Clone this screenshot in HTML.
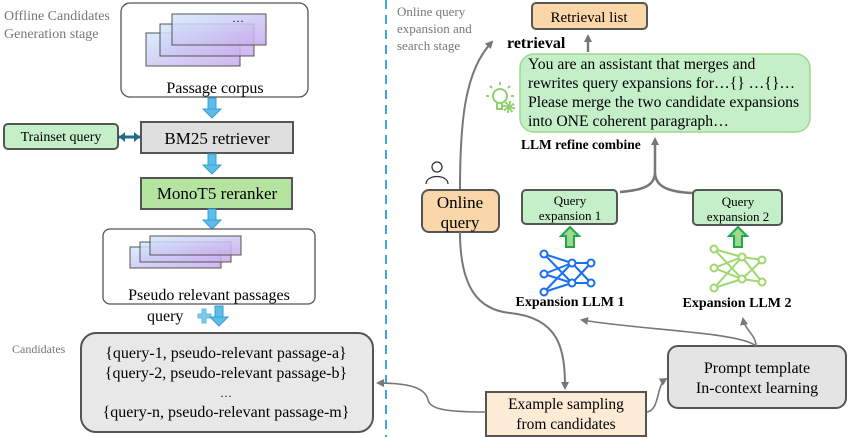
<!DOCTYPE html>
<html><head><meta charset="utf-8"><style>
html,body{margin:0;padding:0;background:#fff;}
svg{display:block;font-family:"Liberation Serif",serif;}
</style></head><body>
<svg width="848" height="437" viewBox="0 0 848 437" xmlns="http://www.w3.org/2000/svg">
<defs>
<linearGradient id="pg" x1="0" y1="0" x2="1" y2="1"><stop offset="0" stop-color="#d2eafb"/><stop offset="1" stop-color="#c9a8ec"/></linearGradient>
<marker id="ah" markerWidth="8" markerHeight="8" refX="6" refY="4" orient="auto" markerUnits="userSpaceOnUse"><path d="M0,0 L8,4 L0,8 z" fill="#777"/></marker>
<g id="barrow"><rect x="-4" y="0" width="8" height="12" fill="#5bbde8" stroke="#3a9fd0" stroke-width="1"/><path d="M-9,11 L9,11 L0,20 z" fill="#5bbde8" stroke="#3a9fd0" stroke-width="1"/></g>
<g id="garrow"><path d="M-4,20 L-4,9 L-9,9 L0,0 L9,9 L4,9 L4,20 z" fill="#9ed88e" stroke="#1fa84a" stroke-width="2"/></g>
</defs>

<text x="4" y="20" font-size="14" fill="#777">Offline Candidates</text>
<text x="4" y="38" font-size="14" fill="#777">Generation stage</text>

<rect x="121" y="3" width="187" height="94" rx="9" fill="#fff" stroke="#555" stroke-width="1.3"/>
<rect x="146" y="33" width="94" height="33" fill="url(#pg)" fill-opacity="0.85" stroke="#555"/>
<rect x="160" y="24" width="94" height="32" fill="url(#pg)" fill-opacity="0.85" stroke="#555"/>
<rect x="172" y="14" width="94" height="31" fill="url(#pg)" fill-opacity="0.85" stroke="#555"/>
<text x="238" y="22" font-size="12" text-anchor="middle">…</text>
<text x="215" y="93" font-size="16" text-anchor="middle">Passage corpus</text>
<use href="#barrow" x="212" y="98"/>

<rect x="141" y="122" width="152" height="31" fill="#dedede" stroke="#555" stroke-width="2"/>
<text x="217" y="144" font-size="17" text-anchor="middle">BM25 retriever</text>
<rect x="4" y="124" width="114" height="25" rx="4" fill="#c5efc9" stroke="#555" stroke-width="2"/>
<text x="61" y="141" font-size="14" text-anchor="middle">Trainset query</text>
<path d="M119,137 L140,137" stroke="#1f6b8a" stroke-width="3"/>
<path d="M119,137 L125,132 L125,142 z M140,137 L134,132 L134,142 z" fill="#1f6b8a"/>
<use href="#barrow" x="212" y="154"/>

<rect x="141" y="178" width="151" height="31" fill="#b5e3a0" stroke="#555" stroke-width="2"/>
<text x="217" y="199" font-size="17" text-anchor="middle">MonoT5 reranker</text>
<use href="#barrow" x="212" y="209"/>

<rect x="103" y="229" width="212" height="75" rx="7" fill="#fff" stroke="#555" stroke-width="1.3"/>
<rect x="130" y="247" width="91" height="21" fill="url(#pg)" fill-opacity="0.85" stroke="#555"/>
<rect x="140" y="242" width="91" height="20" fill="url(#pg)" fill-opacity="0.85" stroke="#555"/>
<rect x="150" y="236" width="91" height="19" fill="url(#pg)" fill-opacity="0.85" stroke="#555"/>
<text x="209" y="300" font-size="16" text-anchor="middle">Pseudo relevant passages</text>
<text x="147" y="321" font-size="16">query</text>
<path d="M198,314 h4 v-5 h4 v5 h5 v4 h-5 v5 h-4 v-5 h-4 z" fill="#7fc8ea" stroke="#5bbde8"/>
<use href="#barrow" x="219" y="306"/>

<text x="12" y="353" font-size="12" fill="#777">Candidates</text>
<rect x="81" y="333" width="292" height="99" rx="15" fill="#e8e8e8" stroke="#555" stroke-width="2"/>
<text x="226" y="358" font-size="16" text-anchor="middle">{query-1, pseudo-relevant passage-a}</text>
<text x="226" y="378" font-size="16" text-anchor="middle">{query-2, pseudo-relevant passage-b}</text>
<text x="226" y="397" font-size="12" text-anchor="middle">…</text>
<text x="226" y="417" font-size="16" text-anchor="middle">{query-n, pseudo-relevant passage-m}</text>

<line x1="386" y1="0" x2="386" y2="437" stroke="#3aa8dc" stroke-width="2" stroke-dasharray="9,6"/>

<text x="397" y="16" font-size="13" fill="#777">Online query</text>
<text x="397" y="33" font-size="13" fill="#777">expansion and</text>
<text x="397" y="50" font-size="13" fill="#777">search stage</text>

<rect x="532" y="3" width="115" height="26" rx="4" fill="#fad7a8" stroke="#555" stroke-width="2"/>
<text x="589" y="22" font-size="15" text-anchor="middle">Retrieval list</text>
<text x="507" y="48" font-size="16" font-weight="bold">retrieval</text>
<line x1="588" y1="52" x2="588" y2="36" stroke="#777" stroke-width="2.5" marker-end="url(#ah)"/>

<rect x="520" y="54" width="290" height="78" rx="14" fill="#c5efc9" stroke="#9ed88e" stroke-width="1.5"/>
<text font-size="15.7"><tspan x="528" y="69">You are an assistant that merges and</tspan><tspan x="528" y="88">rewrites query expansions for…{} …{}…</tspan><tspan x="528" y="107">Please merge the two candidate expansions</tspan><tspan x="528" y="126">into ONE coherent paragraph…</tspan></text>
<g stroke="#8fd16e" stroke-width="2" fill="none">
<circle cx="500" cy="96" r="7"/>
<path d="M497,103 v6 h5 v-6"/>
<path d="M500,85 v-3 M489,96 h-3 M511,96 h3 M492,88 l-2,-2 M508,88 l2,-2"/>
<circle cx="509" cy="107" r="4.5" stroke-width="3" stroke-dasharray="2,1.5"/>
</g>
<circle cx="509" cy="107" r="3" fill="#8fd16e"/>
<text x="521" y="149" font-size="13.5" font-weight="bold">LLM refine combine</text>
<path d="M620,192 C645,190 655,185 655,172 M693,193 C665,192 655,185 655,172 L655,139" stroke="#777" stroke-width="2.5" fill="none" marker-end="url(#ah)"/>

<rect x="522" y="190" width="95" height="34" rx="4" fill="#c5efc9" stroke="#555" stroke-width="2"/>
<text x="570" y="205" font-size="13" text-anchor="middle">Query</text>
<text x="570" y="220" font-size="13" text-anchor="middle">expansion 1</text>
<rect x="693" y="190" width="89" height="35" rx="4" fill="#c5efc9" stroke="#555" stroke-width="2"/>
<text x="738" y="206" font-size="13" text-anchor="middle">Query</text>
<text x="738" y="221" font-size="13" text-anchor="middle">expansion 2</text>
<use href="#garrow" x="570" y="227"/>
<use href="#garrow" x="738" y="227"/>

<g stroke="#1a6ff0" stroke-width="2" fill="none">
<path d="M544,254 L572,263 M544,254 L572,283 M544,274 L572,263 M544,274 L572,283 M544,292 L572,263 M544,292 L572,283 M572,263 L591,263 M572,263 L591,283 M572,283 L591,263 M572,283 L591,283"/>
<g fill="#fff"><circle cx="544" cy="254" r="3.5"/><circle cx="544" cy="274" r="3.5"/><circle cx="544" cy="292" r="3.5"/><circle cx="572" cy="263" r="3.5"/><circle cx="572" cy="283" r="3.5"/><circle cx="591" cy="263" r="3.5"/><circle cx="591" cy="283" r="3.5"/></g>
</g>
<g stroke="#9ed86e" stroke-width="2" fill="none">
<path d="M714,249 L742,257 M714,249 L742,279 M714,268 L742,257 M714,268 L742,279 M714,288 L742,257 M714,288 L742,279 M742,257 L762,260 M742,257 L762,282 M742,279 L762,260 M742,279 L762,282"/>
<g fill="#fff"><circle cx="714" cy="249" r="3.5"/><circle cx="714" cy="268" r="3.5"/><circle cx="714" cy="288" r="3.5"/><circle cx="742" cy="257" r="3.5"/><circle cx="742" cy="279" r="3.5"/><circle cx="762" cy="260" r="3.5"/><circle cx="762" cy="282" r="3.5"/></g>
</g>
<text x="570" y="306" font-size="14" font-weight="bold" text-anchor="middle">Expansion LLM 1</text>
<text x="737" y="307" font-size="14" font-weight="bold" text-anchor="middle">Expansion LLM 2</text>

<g stroke="#333" stroke-width="1.3" fill="none">
<circle cx="437" cy="167" r="5"/>
<path d="M426,184 C426,174 448,174 448,184"/>
</g>
<path d="M460,190 C460,120 465,70 492,42" stroke="#777" stroke-width="2" fill="none" marker-end="url(#ah)"/>
<rect x="422" y="190" width="77" height="42" rx="7" fill="#fad7a8" stroke="#555" stroke-width="2"/>
<text x="460" y="208" font-size="17" text-anchor="middle">Online</text>
<text x="460" y="228" font-size="17" text-anchor="middle">query</text>
<path d="M460,232 C460,290 480,310 510,313 C560,318 565,350 565,388" stroke="#777" stroke-width="2" fill="none" marker-end="url(#ah)"/>

<rect x="486" y="392" width="160" height="44" fill="#fdebd6" stroke="#555" stroke-width="2"/>
<text x="566" y="409" font-size="15.5" text-anchor="middle">Example sampling</text>
<text x="566" y="429" font-size="15.5" text-anchor="middle">from candidates</text>
<path d="M486,412 C450,412 430,410 428,400 C425,385 400,383 378,383" stroke="#777" stroke-width="1.6" fill="none" marker-end="url(#ah)"/>
<path d="M647,412 C660,410 656,385 666,379" stroke="#777" stroke-width="1.6" fill="none" marker-end="url(#ah)"/>

<rect x="668" y="346" width="178" height="62" rx="10" fill="#e4e4e4" stroke="#555" stroke-width="2"/>
<text x="757" y="373" font-size="16" text-anchor="middle">Prompt template</text>
<text x="757" y="393" font-size="16" text-anchor="middle">In-context learning</text>
<path d="M756,346 C740,332 640,330 582,320" stroke="#777" stroke-width="1.6" fill="none" marker-end="url(#ah)"/>
<path d="M756,346 C756,335 745,330 743,319" stroke="#777" stroke-width="1.6" fill="none" marker-end="url(#ah)"/>
</svg>
</body></html>
